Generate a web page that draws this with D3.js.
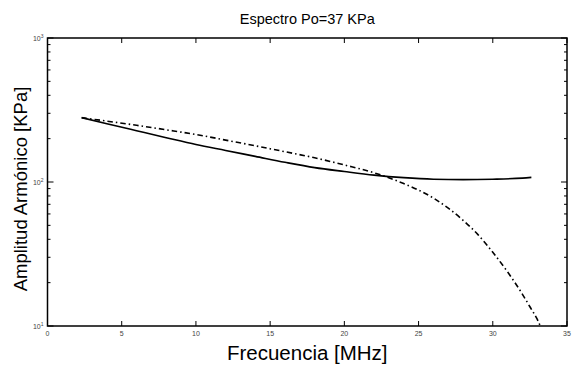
<!DOCTYPE html>
<html><head><meta charset="utf-8">
<script src="https://cdn.jsdelivr.net/npm/d3@7"></script>
<style>body{margin:0;background:#fff}svg{display:block}text{font-family:"Liberation Sans",Arial,sans-serif}</style>
</head><body><svg id="c" width="577" height="365"></svg>
<script>
const title = "Espectro Po=37 KPa";
const xLabel = "Frecuencia [MHz]";
const yLabel = "Amplitud Armónico [KPa]";
const xTicks = [0,5,10,15,20,25,30,35];
const yTicks = [10,100,1000];
const freqSolid = [2.3,4,6,8,10,12,14,16,18,20,22,24,26,28,30,32,32.6];
const ampSolid  = [280,254,227,203,182,165.6,150.7,137.1,125.9,118.3,111.7,107.2,104.5,103.8,104.5,106.4,107.6];
const freqDash = [2.3,4,6,8,10,12,14,16,18,20,22,24,25,26,27,28,29,30,31,32,32.5,33,33.2];
const ampDash  = [279.6,264.8,247.6,230.4,213.8,195.4,178.4,162.3,147.3,131.3,115.9,97.5,87.9,77.3,65.8,54.2,43.1,32.5,23.7,16.6,13.6,11.1,10.0];

const svg = d3.select("#c");
const L=47.5, R=567, T=38, B=326;
const x = d3.scaleLinear().domain([0,35]).range([L,R]);
const y = d3.scaleLog().domain([10,1000]).range([B,T]);

svg.append("rect").attr("x",L).attr("y",T).attr("width",R-L).attr("height",B-T)
  .attr("fill","none").attr("stroke","#000").attr("stroke-width",1.5);

const g = svg.append("g").attr("stroke","#000").attr("stroke-width",1);
xTicks.forEach(t=>{
  g.append("line").attr("x1",x(t)).attr("x2",x(t)).attr("y1",B).attr("y2",B-5);
  g.append("line").attr("x1",x(t)).attr("x2",x(t)).attr("y1",T).attr("y2",T+5);
});
const minor=[];
for (let d=10; d<1000; d*=10) for (let k=2;k<=9;k++) minor.push(d*k);
yTicks.forEach(t=>{
  g.append("line").attr("x1",L).attr("x2",L+6).attr("y1",y(t)).attr("y2",y(t));
  g.append("line").attr("x1",R).attr("x2",R-6).attr("y1",y(t)).attr("y2",y(t));
});
minor.forEach(t=>{
  g.append("line").attr("x1",L).attr("x2",L+3).attr("y1",y(t)).attr("y2",y(t));
  g.append("line").attr("x1",R).attr("x2",R-3).attr("y1",y(t)).attr("y2",y(t));
});

svg.selectAll(".xt").data(xTicks).enter().append("text")
  .attr("x",d=>x(d)).attr("y",B+10).attr("text-anchor","middle")
  .attr("font-size",7).attr("fill","#444").text(d=>d);
yTicks.forEach(t=>{
  const e = Math.round(Math.log10(t));
  const tx = svg.append("text").attr("x",L-4).attr("y",y(t)+2.5).attr("text-anchor","end")
    .attr("font-size",7).attr("fill","#444");
  tx.append("tspan").text("10");
  tx.append("tspan").attr("dy",-3).attr("font-size",5).text(e);
});

const line = d3.line().x(d=>x(d[0])).y(d=>y(d[1])).curve(d3.curveMonotoneX);
svg.append("path").datum(freqSolid.map((f,i)=>[f,ampSolid[i]]))
  .attr("d",line).attr("fill","none").attr("stroke","#000").attr("stroke-width",1.6);
svg.append("path").datum(freqDash.map((f,i)=>[f,ampDash[i]]))
  .attr("d",line).attr("fill","none").attr("stroke","#000").attr("stroke-width",1.6)
  .attr("stroke-dasharray","5.5,3,1.5,3");

svg.append("text").attr("x",(L+R)/2).attr("y",23.5).attr("text-anchor","middle")
  .attr("font-size",14.5).text(title);
svg.append("text").attr("x",(L+R)/2).attr("y",360).attr("text-anchor","middle")
  .attr("font-size",20.5).text(xLabel);
svg.append("text").attr("transform",`translate(27,189) rotate(-90)`)
  .attr("text-anchor","middle").attr("font-size",18.5).text(yLabel);
</script></body></html>
